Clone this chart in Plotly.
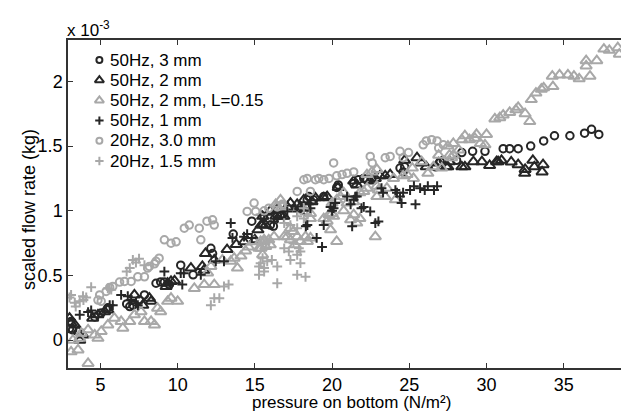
import plotly.graph_objects as go

# ---- data (flow rate in units of 1e-3 kg) ----
x_50hz_3mm = [3.0, 3.1, 3.2, 4.63, 5.05, 5.48, 6.7, 6.9, 7.1, 7.53, 7.85, 8.6, 8.9, 9.14, 9.46, 10.2, 11.0, 12.15, 12.26, 13.6, 14.8, 16.0, 16.2, 16.45, 18.39, 18.5, 18.8, 19.46, 20.3, 20.4, 21.4, 21.7, 22.05, 22.26, 22.58, 24.4, 24.6, 24.7, 26.7, 27.0, 27.2, 28.06, 28.4, 29.1, 29.9, 31.08, 31.5, 32.05, 32.86, 33.7, 34.4, 35.4, 36.35, 36.8, 37.27]
y_50hz_3mm = [0.09, 0.145, 0.08, 0.18, 0.21, 0.25, 0.28, 0.26, 0.27, 0.31, 0.35, 0.44, 0.45, 0.45, 0.43, 0.58, 0.505, 0.71, 0.67, 0.82, 0.92, 0.89, 0.88, 0.96, 1.085, 1.11, 1.085, 1.11, 1.18, 1.20, 1.21, 1.24, 1.25, 1.24, 1.25, 1.33, 1.30, 1.34, 1.34, 1.38, 1.39, 1.39, 1.45, 1.46, 1.46, 1.48, 1.48, 1.48, 1.50, 1.54, 1.58, 1.58, 1.60, 1.63, 1.59]

x_50hz_2mm = [3.0, 3.1, 3.34, 3.55, 3.66, 3.87, 4.5, 4.84, 5.27, 5.48, 7.2, 7.74, 8.17, 8.28, 9.25, 9.35, 9.57, 9.8, 10.86, 11.6, 11.7, 11.8, 12.37, 13.2, 13.8, 14.3, 15.0, 15.2, 15.4, 15.5, 15.5, 15.7, 16.0, 16.35, 16.45, 16.66, 16.88, 17.1, 17.3, 17.74, 17.95, 18.17, 18.7, 18.92, 19.46, 19.68, 20.4, 21.4, 21.6, 22.47, 22.8, 23.1, 23.44, 23.76, 24.7, 25.5, 25.8, 26.1, 26.9, 27.4, 27.5, 27.6, 28.4, 28.6, 29.15, 29.7, 30.2, 30.65, 30.75, 30.97, 31.6, 32.05, 32.47, 32.5, 33.0, 33.1, 33.6, 33.66]
y_50hz_2mm = [0.17, 0.13, 0.118, 0.067, 0.0, 0.04, 0.17, 0.196, 0.22, 0.234, 0.35, 0.27, 0.325, 0.30, 0.415, 0.44, 0.454, 0.459, 0.557, 0.57, 0.54, 0.67, 0.62, 0.70, 0.74, 0.76, 0.776, 0.853, 0.89, 0.957, 0.89, 0.89, 1.0, 0.957, 1.01, 0.97, 0.957, 1.03, 1.06, 1.05, 1.03, 1.085, 1.07, 1.10, 1.10, 1.11, 1.18, 1.23, 1.20, 1.23, 1.25, 1.27, 1.27, 1.28, 1.39, 1.41, 1.37, 1.34, 1.37, 1.34, 1.34, 1.38, 1.34, 1.34, 1.38, 1.38, 1.35, 1.38, 1.38, 1.39, 1.377, 1.356, 1.29, 1.32, 1.39, 1.34, 1.30, 1.356]

x_50hz_2mm_L = [3.1, 3.22, 3.55, 3.66, 3.76, 4.2, 4.2, 4.63, 4.84, 5.05, 5.48, 5.9, 6.34, 6.45, 6.9, 7.2, 7.63, 7.85, 8.28, 8.5, 8.7, 8.9, 9.35, 9.57, 10.0, 11.08, 11.72, 11.94, 12.15, 12.37, 12.9, 13.44, 13.66, 13.87, 14.1, 14.4, 14.6, 14.95, 15.27, 15.37, 15.4, 15.5, 15.6, 15.6, 15.7, 15.9, 16.0, 16.24, 16.35, 16.66, 16.77, 16.9, 17.1, 17.3, 17.3, 17.5, 17.6, 17.74, 17.95, 18.28, 18.28, 18.4, 18.6, 18.6, 18.6, 19.46, 19.68, 19.8, 19.9, 20.0, 20.0, 20.1, 20.3, 20.3, 20.54, 20.75, 20.75, 20.97, 21.2, 21.4, 21.4, 21.6, 21.8, 21.8, 22.05, 22.26, 22.26, 22.58, 22.8, 22.9, 22.9, 22.9, 23.0, 23.44, 23.55, 23.98, 24.1, 24.6, 24.85, 25.2, 25.27, 25.8, 26.2, 26.56, 26.9, 27.1, 27.5, 27.6, 27.74, 27.85, 27.85, 28.2, 28.4, 28.6, 28.9, 29.25, 29.35, 29.6, 29.9, 30.0, 30.54, 30.86, 31.08, 31.5, 31.9, 32.05, 32.5, 32.8, 32.9, 33.2, 33.55, 33.7, 34.26, 34.3, 34.73, 35.27, 35.66, 36.0, 36.45, 36.45, 36.7, 37.14, 37.6, 37.95, 38.5, 38.6, 39.2, 39.35, 39.45]
y_50hz_2mm_L = [-0.09, 0.0, -0.075, 0.015, 0.054, 0.08, -0.18, 0.04, 0.015, 0.067, 0.118, 0.17, 0.145, 0.093, 0.145, 0.196, 0.22, 0.145, 0.145, 0.118, 0.247, 0.22, 0.30, 0.325, 0.30, 0.40, 0.43, 0.52, 0.57, 0.43, 0.62, 0.61, 0.634, 0.557, 0.65, 0.69, 0.72, 0.76, 0.71, 0.763, 0.71, 0.66, 0.76, 0.776, 0.724, 0.776, 0.737, 0.80, 1.05, 1.085, 1.03, 0.80, 0.80, 0.866, 0.776, 0.84, 0.737, 0.80, 0.763, 0.80, 0.995, 0.763, 0.79, 0.94, 0.98, 0.94, 0.92, 0.97, 0.853, 0.98, 1.06, 0.957, 0.763, 1.085, 1.11, 1.14, 1.0, 1.06, 0.93, 1.07, 0.97, 0.905, 1.14, 0.94, 1.15, 1.175, 1.28, 1.30, 0.80, 1.19, 1.32, 1.11, 1.16, 1.11, 1.175, 1.25, 1.085, 1.27, 1.28, 1.33, 1.25, 1.38, 1.29, 1.34, 1.43, 1.33, 1.50, 1.43, 1.41, 1.43, 1.52, 1.47, 1.55, 1.58, 1.55, 1.56, 1.59, 1.52, 1.51, 1.59, 1.71, 1.72, 1.74, 1.76, 1.78, 1.80, 1.75, 1.69, 1.86, 1.91, 1.94, 1.95, 2.04, 1.96, 2.05, 2.05, 2.04, 2.02, 2.12, 2.16, 2.04, 2.16, 2.25, 2.24, 2.26, 2.21, 2.21, 2.28, 2.33]

x_50hz_1mm = [3.66, 4.2, 4.4, 5.6, 5.8, 6.34, 6.77, 6.99, 7.3, 7.42, 9.14, 10.2, 10.3, 10.4, 11.5, 12.47, 13.0, 13.44, 13.55, 14.3, 14.5, 14.8, 15.37, 15.6, 15.8, 16.24, 16.45, 16.88, 17.1, 17.74, 17.95, 18.17, 18.3, 18.4, 18.5, 18.6, 19.0, 19.35, 19.46, 19.9, 20.0, 20.1, 20.2, 20.97, 21.2, 21.3, 21.4, 21.5, 21.6, 21.9, 22.05, 22.47, 22.8, 23.0, 23.2, 23.3, 24.1, 24.2, 24.4, 24.5, 24.6, 25.05, 25.3, 25.4, 25.7, 26.0, 26.2, 26.6, 26.8]
y_50hz_1mm = [0.196, 0.217, 0.23, 0.27, 0.27, 0.35, 0.34, 0.31, 0.286, 0.27, 0.53, 0.518, 0.43, 0.518, 0.505, 0.61, 0.61, 0.905, 0.79, 0.80, 0.82, 0.79, 0.97, 0.94, 0.97, 0.918, 0.94, 0.94, 0.995, 0.995, 1.02, 1.0, 0.88, 0.89, 1.05, 1.02, 0.79, 0.72, 0.89, 1.03, 1.0, 1.02, 1.06, 1.11, 1.05, 0.88, 1.085, 1.11, 1.11, 1.02, 1.03, 0.995, 0.905, 0.918, 1.175, 1.14, 1.16, 1.14, 1.11, 1.06, 1.14, 1.16, 1.19, 1.05, 1.175, 1.16, 1.19, 1.16, 1.19]

x_20hz_3mm = [4.84, 4.95, 5.05, 5.37, 5.6, 5.8, 6.24, 6.56, 6.99, 7.42, 7.85, 8.06, 8.17, 8.5, 8.6, 8.8, 9.14, 9.57, 9.9, 10.43, 10.75, 11.4, 11.5, 11.9, 12.26, 12.37, 14.5, 14.95, 15.05, 15.6, 15.9, 16.45, 16.77, 17.74, 18.17, 18.39, 18.6, 18.92, 19.14, 19.46, 19.8, 20.1, 20.3, 20.65, 20.97, 21.4, 22.47, 22.6, 23.44, 23.76, 24.4, 24.6, 24.95, 25.9, 26.1, 26.45, 26.8, 26.9, 27.2]
y_20hz_3mm = [0.31, 0.35, 0.30, 0.377, 0.408, 0.415, 0.449, 0.454, 0.454, 0.49, 0.49, 0.557, 0.57, 0.59, 0.61, 0.634, 0.776, 0.75, 0.76, 0.866, 0.89, 0.866, 0.776, 0.92, 0.93, 0.89, 0.995, 1.06, 0.995, 1.0, 1.02, 1.03, 1.05, 1.15, 1.24, 1.25, 1.15, 1.24, 1.25, 1.24, 1.25, 1.37, 1.27, 1.28, 1.29, 1.30, 1.42, 1.37, 1.41, 1.42, 1.46, 1.41, 1.45, 1.51, 1.54, 1.55, 1.54, 1.485, 1.51]

x_20hz_15mm = [3.0, 3.1, 3.34, 3.4, 3.66, 3.87, 3.9, 4.08, 4.4, 5.48, 5.7, 6.7, 6.9, 7.1, 7.3, 7.5, 7.85, 12.15, 12.37, 12.7, 13.0, 13.3, 15.27, 15.27, 15.37, 15.5, 15.6, 15.6, 15.8, 16.1, 16.45, 16.45, 16.9, 16.9, 17.2, 17.3, 17.3, 17.5, 17.74, 17.74, 17.74, 17.74, 17.85, 17.95, 17.95, 18.17, 18.17, 18.28]
y_20hz_15mm = [0.33, 0.35, 0.29, 0.26, 0.30, 0.34, 0.31, 0.33, 0.41, 0.40, 0.39, 0.53, 0.557, 0.62, 0.60, 0.63, 0.58, 0.27, 0.325, 0.325, 0.415, 0.43, 0.57, 0.505, 0.595, 0.634, 0.557, 0.53, 0.61, 0.62, 0.57, 0.44, 0.905, 0.71, 0.686, 0.89, 0.62, 0.75, 0.866, 0.66, 0.505, 0.957, 0.71, 0.686, 0.595, 0.94, 1.02, 0.49]

series_names = ["50Hz, 3 mm", "50Hz, 2 mm", "50Hz, 2 mm, L=0.15",
                "50Hz, 1 mm", "20Hz, 3.0 mm", "20Hz, 1.5 mm"]
x_ticks = [5, 10, 15, 20, 25, 30, 35]
y_ticks = [0, 0.5, 1, 1.5, 2]
y_tick_labels = ["0", "0.5", "1", "1.5", "2"]

DARK = "#262626"
GRAY = "#a8a8a8"

series_x = [x_50hz_3mm, x_50hz_2mm, x_50hz_2mm_L, x_50hz_1mm, x_20hz_3mm, x_20hz_15mm]
series_y = [y_50hz_3mm, y_50hz_2mm, y_50hz_2mm_L, y_50hz_1mm, y_20hz_3mm, y_20hz_15mm]
styles = [
    ("circle-open", 7.5, DARK, 6),
    ("triangle-up-open", 10, DARK, 8),
    ("triangle-up-open", 10, GRAY, 8),
    ("cross-thin-open", 7, DARK, 6),
    ("circle-open", 7.5, GRAY, 6),
    ("cross-thin-open", 7, GRAY, 6),
]

FONT = "Liberation Sans, Arial, Helvetica, sans-serif"

fig = go.Figure()
for name, xs, ys, (sym, size, col, _) in zip(series_names, series_x, series_y, styles):
    assert len(xs) == len(ys), name
    fig.add_trace(go.Scatter(
        x=xs, y=ys, mode="markers", name=name, showlegend=False,
        marker=dict(symbol=sym, size=size, color=col,
                    line=dict(color=col, width=2)),
    ))

# ---- legend drawn on an overlay axis measured in pixels of the plot box ----
PLOT_L, PLOT_R, PLOT_T, PLOT_B = 60, 628, 32, 360
LEG_SYM_X, LEG_TEXT_X, LEG_Y0, LEG_DY = 91.5, 100.5, 52, 20.2
annotations = []
for i, (name, (sym, size, col, lsize)) in enumerate(zip(series_names, styles)):
    yy = LEG_Y0 + i * LEG_DY
    fig.add_trace(go.Scatter(
        x=[LEG_SYM_X], y=[yy], xaxis="x2", yaxis="y2", mode="markers",
        showlegend=False, hoverinfo="skip",
        marker=dict(symbol=sym, size=lsize, color=col, line=dict(color=col, width=2)),
    ))
    annotations.append(dict(text=name, xref="x2", yref="y2", x=LEG_TEXT_X, y=yy,
                            xanchor="left", yanchor="middle", showarrow=False,
                            font=dict(family=FONT, size=17, color="black")))

axis_common = dict(
    showline=True, linecolor="#333333", linewidth=1.5, mirror="ticks",
    ticks="inside", ticklen=5, tickwidth=1.3, tickcolor="#333333",
    showgrid=False, zeroline=False,
    tickfont=dict(family=FONT, size=18, color="black"),
)

annotations += [
    dict(text="scaled flow rate (kg)", xref="paper", yref="paper",
         x=0, y=0.5, xanchor="center", yanchor="middle", xshift=-39, yshift=-6,
         textangle=-90, showarrow=False, font=dict(family=FONT, size=18)),
    dict(text="pressure on bottom (N/m²)", xref="paper", yref="paper",
         x=0.5, y=0, xanchor="center", yanchor="bottom", yshift=-46,
         showarrow=False, font=dict(family=FONT, size=17)),
    dict(text="x 10<sup>-3</sup>", xref="paper", yref="paper",
         x=0, y=1, xanchor="left", yanchor="bottom", xshift=-3, yshift=-2,
         showarrow=False, font=dict(family=FONT, size=17)),
]

fig.update_layout(
    width=629, height=411,
    margin=dict(l=PLOT_L, r=629 - PLOT_R, t=PLOT_T, b=411 - PLOT_B),
    paper_bgcolor="white", plot_bgcolor="white",
    font=dict(family=FONT, size=18, color="black"),
    xaxis=dict(range=[2.9, 39.55], tickvals=x_ticks, **axis_common),
    yaxis=dict(range=[-0.215, 2.32], tickvals=y_ticks, ticktext=y_tick_labels, **axis_common),
    xaxis2=dict(overlaying="x", anchor="y2", range=[PLOT_L, PLOT_R], visible=False, fixedrange=True),
    yaxis2=dict(overlaying="y", anchor="x2", range=[PLOT_B, PLOT_T], visible=False, fixedrange=True),
    showlegend=False,
    annotations=annotations,
)

fig.write_html("out.html")
